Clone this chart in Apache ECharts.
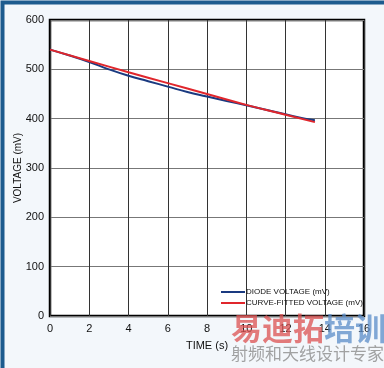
<!DOCTYPE html>
<html><head><meta charset="utf-8">
<script src="https://cdn.jsdelivr.net/npm/echarts@6/dist/echarts.min.js"></script>
<style>html,body{margin:0;padding:0;}#c{width:384px;height:368px;}</style>
</head><body><div id="c"></div>
<script>
var xTicks = [0, 2, 4, 6, 8, 10, 12, 14, 16];
var yTicks = [0, 100, 200, 300, 400, 500, 600];
var diodeTime = [0, 1, 2, 3, 4, 5, 6, 7, 8, 9, 10, 11, 12, 13, 13.5];
var diodeVoltage = [540, 528, 515, 500, 487, 476, 465, 454, 445, 436, 427, 418, 409, 400, 397];
var fitTime = [0, 2, 4, 6, 8, 10, 12, 13.5];
var fitVoltage = [540, 517, 494, 472, 450, 428, 408, 393];
var seriesNames = ['DIODE VOLTAGE (mV)', 'CURVE-FITTED VOLTAGE (mV)'];

var font = '"Liberation Sans Narrow", "Liberation Sans", Arial, sans-serif';
var chart = echarts.init(document.getElementById('c'));
chart.setOption({
  backgroundColor: '#f3f7fb',
  animation: false,
  grid: {left: 50, top: 20, right: 20, bottom: 52, containLabel: false, outerBoundsMode: 'none',
         show: true, backgroundColor: '#ffffff', borderColor: '#000', borderWidth: 2.5},
  xAxis: {
    type: 'value', min: 0, max: 16, interval: 2,
    name: 'TIME (s)', nameLocation: 'middle', nameGap: 24, nameMoveOverlap: false,
    nameTextStyle: {fontFamily: font, fontSize: 11, color: '#111'},
    axisLine: {show: false}, axisTick: {show: false},
    axisLabel: {fontFamily: font, fontSize: 11, color: '#111', margin: 7},
    splitLine: {lineStyle: {color: '#333', width: 1}}
  },
  yAxis: {
    type: 'value', min: 0, max: 600, interval: 100,
    name: 'VOLTAGE (mV)', nameLocation: 'middle', nameGap: 27, nameMoveOverlap: false,
    nameTextStyle: {fontFamily: font, fontSize: 10, color: '#111'},
    axisLine: {show: false}, axisTick: {show: false},
    axisLabel: {fontFamily: font, fontSize: 11, color: '#111', margin: 6},
    splitLine: {lineStyle: {color: '#777', width: 1}}
  },
  legend: {
    orient: 'vertical', left: 216, top: 283, itemGap: 3,
    icon: 'rect', itemWidth: 24, itemHeight: 2,
    textStyle: {fontFamily: font, fontSize: 8, color: '#111', padding: [0, 0, 0, -4]},
    data: seriesNames
  },
  series: [
    {name: seriesNames[0], type: 'line', smooth: true, symbol: 'none',
     lineStyle: {color: '#1a3a80', width: 2}, itemStyle: {color: '#1a3a80'},
     data: diodeTime.map(function (t, i) { return [t, diodeVoltage[i]]; })},
    {name: seriesNames[1], type: 'line', smooth: true, symbol: 'none',
     lineStyle: {color: '#e0262c', width: 2}, itemStyle: {color: '#e0262c'},
     data: fitTime.map(function (t, i) { return [t, fitVoltage[i]]; })}
  ],
  graphic: [
    {type: 'rect', left: 0, top: 0, shape: {width: 384, height: 368},
     style: {fill: 'none', stroke: '#1d5b8e', lineWidth: 4}, silent: true, z: 100},
    {type: 'text', left: 231, top: 313, z: 50,
     style: {text: '易迪拓', font: 'bold 31px "Noto Sans CJK SC"', fill: 'rgba(220,80,80,0.75)'}},
    {type: 'text', left: 324, top: 313, z: 50,
     style: {text: '培训', font: 'bold 31px "Noto Sans CJK SC"', fill: 'rgba(90,140,200,0.75)'}},
    {type: 'text', left: 231, top: 345, z: 50,
     style: {text: '射频和天线设计专家', font: '17px "Noto Sans CJK SC"', fill: 'rgba(140,140,140,0.8)'}}
  ]
});
</script></body></html>
